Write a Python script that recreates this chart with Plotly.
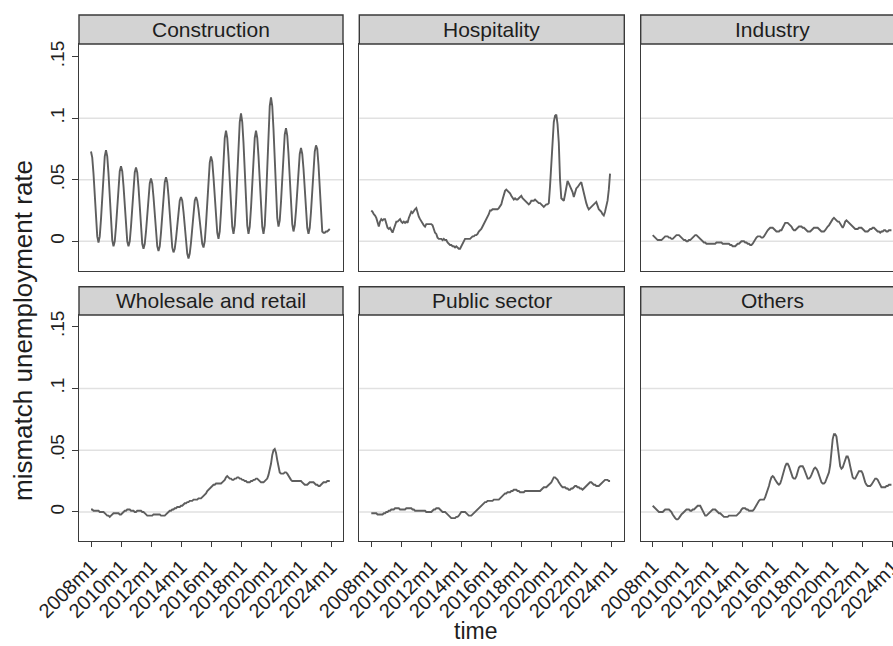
import plotly.graph_objects as go

# Monthly index: 0 = 2008m1 ... 191 = 2023m12
months = list(range(192))

sectors = ["Construction", "Hospitality", "Industry",
           "Wholesale and retail", "Public sector", "Others"]

construction = [
    0.073, 0.068, 0.055, 0.036, 0.018, 0.004, -0.001, 0.004, 0.018, 0.037, 0.055, 0.069,
    0.074, 0.069, 0.055, 0.035, 0.016, 0.001, -0.004, 0.000, 0.012, 0.029, 0.045, 0.057,
    0.061, 0.057, 0.045, 0.029, 0.012, 0.000, -0.004, 0.000, 0.012, 0.028, 0.044, 0.056,
    0.060, 0.056, 0.044, 0.027, 0.011, -0.002, -0.006, -0.002, 0.008, 0.023, 0.037, 0.047,
    0.051, 0.047, 0.036, 0.022, 0.007, -0.004, -0.008, -0.004, 0.007, 0.022, 0.037, 0.048,
    0.052, 0.048, 0.037, 0.022, 0.006, -0.005, -0.009, -0.006, 0.002, 0.014, 0.025, 0.033,
    0.036, 0.033, 0.024, 0.011, -0.001, -0.010, -0.014, -0.010, -0.001, 0.011, 0.024, 0.033,
    0.036, 0.033, 0.026, 0.016, 0.005, -0.002, -0.005, 0.000, 0.014, 0.032, 0.051, 0.064,
    0.069, 0.065, 0.052, 0.036, 0.019, 0.007, 0.002, 0.008, 0.024, 0.046, 0.068, 0.084,
    0.090, 0.084, 0.069, 0.048, 0.027, 0.012, 0.006, 0.013, 0.031, 0.055, 0.080, 0.097,
    0.104, 0.097, 0.080, 0.055, 0.031, 0.013, 0.006, 0.012, 0.027, 0.048, 0.069, 0.084,
    0.090, 0.084, 0.069, 0.048, 0.027, 0.012, 0.006, 0.013, 0.034, 0.062, 0.089, 0.110,
    0.117, 0.110, 0.091, 0.065, 0.038, 0.019, 0.012, 0.017, 0.032, 0.052, 0.072, 0.087,
    0.092, 0.086, 0.071, 0.050, 0.029, 0.014, 0.008, 0.013, 0.025, 0.042, 0.059, 0.071,
    0.076, 0.071, 0.059, 0.041, 0.024, 0.011, 0.006, 0.011, 0.024, 0.042, 0.060, 0.073,
    0.078, 0.075, 0.062, 0.040, 0.018, 0.008, 0.007, 0.007, 0.008, 0.008, 0.009, 0.010,
]

hospitality = [
    0.025, 0.024, 0.022, 0.021, 0.019, 0.016, 0.012, 0.016, 0.018, 0.017, 0.018, 0.018,
    0.015, 0.011, 0.010, 0.011, 0.009, 0.007, 0.010, 0.013, 0.016, 0.016, 0.017, 0.018,
    0.016, 0.015, 0.016, 0.015, 0.016, 0.015, 0.019, 0.022, 0.024, 0.023, 0.025, 0.026,
    0.027, 0.023, 0.020, 0.018, 0.016, 0.014, 0.013, 0.012, 0.014, 0.014, 0.014, 0.014,
    0.014, 0.013, 0.010, 0.007, 0.006, 0.003, 0.002, 0.002, 0.002, 0.001, 0.002, 0.001,
    0.001, -0.001, -0.002, -0.003, -0.003, -0.004, -0.004, -0.005, -0.004, -0.005, -0.006, -0.006,
    -0.004, -0.003, 0.000, 0.002, 0.002, 0.002, 0.002, 0.002, 0.003, 0.004, 0.004, 0.005,
    0.005, 0.006, 0.008, 0.009, 0.010, 0.012, 0.014, 0.016, 0.017, 0.019, 0.022, 0.025,
    0.025, 0.026, 0.026, 0.026, 0.026, 0.026, 0.027, 0.029, 0.030, 0.034, 0.038, 0.041,
    0.042, 0.041, 0.040, 0.039, 0.037, 0.035, 0.034, 0.035, 0.034, 0.034, 0.035, 0.036,
    0.037, 0.035, 0.034, 0.033, 0.032, 0.031, 0.030, 0.031, 0.033, 0.033, 0.033, 0.034,
    0.033, 0.032, 0.031, 0.031, 0.030, 0.029, 0.028, 0.029, 0.030, 0.030, 0.031, 0.045,
    0.060, 0.080, 0.097, 0.102, 0.103, 0.095, 0.080, 0.050, 0.035, 0.034, 0.033, 0.038,
    0.045, 0.049, 0.047, 0.045, 0.043, 0.040, 0.036, 0.040, 0.043, 0.044, 0.046, 0.047,
    0.048, 0.043, 0.038, 0.034, 0.031, 0.028, 0.026, 0.027, 0.028, 0.029, 0.030, 0.031,
    0.032, 0.029, 0.026, 0.025, 0.024, 0.022, 0.021, 0.024, 0.028, 0.033, 0.042, 0.055,
]

industry = [
    0.005, 0.004, 0.003, 0.002, 0.001, 0.001, 0.001, 0.001, 0.002, 0.003, 0.004, 0.004,
    0.004, 0.003, 0.003, 0.002, 0.002, 0.003, 0.004, 0.005, 0.005, 0.005, 0.004, 0.003,
    0.002, 0.001, 0.001, 0.000, 0.000, 0.001, 0.001, 0.002, 0.003, 0.004, 0.005, 0.005,
    0.004, 0.003, 0.002, 0.001, 0.000, -0.001, -0.001, -0.002, -0.002, -0.002, -0.002, -0.002,
    -0.002, -0.002, -0.002, -0.001, -0.001, -0.001, -0.001, -0.001, -0.002, -0.002, -0.002, -0.002,
    -0.002, -0.002, -0.003, -0.003, -0.004, -0.004, -0.004, -0.003, -0.002, -0.002, -0.001, 0.000,
    0.000, 0.000, -0.001, -0.001, -0.002, -0.002, -0.003, -0.003, -0.002, 0.000, 0.002, 0.003,
    0.004, 0.004, 0.004, 0.003, 0.003, 0.004, 0.006, 0.008, 0.009, 0.010, 0.011, 0.011,
    0.011, 0.010, 0.009, 0.008, 0.008, 0.008, 0.009, 0.009, 0.011, 0.013, 0.015, 0.015,
    0.015, 0.014, 0.013, 0.012, 0.010, 0.009, 0.009, 0.010, 0.011, 0.012, 0.012, 0.012,
    0.011, 0.011, 0.010, 0.009, 0.008, 0.008, 0.008, 0.009, 0.010, 0.011, 0.011, 0.011,
    0.011, 0.010, 0.009, 0.008, 0.008, 0.008, 0.009, 0.011, 0.012, 0.013, 0.015, 0.017,
    0.018, 0.019, 0.018, 0.017, 0.016, 0.016, 0.014, 0.012, 0.011, 0.013, 0.016, 0.017,
    0.016, 0.015, 0.014, 0.013, 0.012, 0.011, 0.010, 0.010, 0.010, 0.011, 0.011, 0.011,
    0.010, 0.009, 0.008, 0.008, 0.008, 0.009, 0.010, 0.010, 0.011, 0.011, 0.010, 0.009,
    0.008, 0.008, 0.007, 0.008, 0.008, 0.009, 0.009, 0.008, 0.008, 0.009, 0.009, 0.009,
]

wholesale = [
    0.002, 0.002, 0.001, 0.001, 0.001, 0.001, 0.001, 0.000, 0.000, 0.000, 0.000, -0.001,
    -0.002, -0.003, -0.003, -0.004, -0.003, -0.002, -0.001, -0.001, -0.001, -0.001, -0.001, -0.002,
    -0.002, -0.001, 0.000, 0.001, 0.001, 0.002, 0.002, 0.002, 0.001, 0.001, 0.001, 0.000,
    0.000, 0.001, 0.001, 0.001, 0.001, 0.000, 0.000, -0.001, -0.002, -0.003, -0.003, -0.003,
    -0.003, -0.003, -0.002, -0.002, -0.002, -0.002, -0.002, -0.002, -0.003, -0.003, -0.003, -0.003,
    -0.002, -0.001, 0.000, 0.001, 0.001, 0.002, 0.002, 0.003, 0.003, 0.004, 0.004, 0.004,
    0.005, 0.005, 0.006, 0.007, 0.007, 0.008, 0.008, 0.009, 0.009, 0.009, 0.010, 0.010,
    0.010, 0.010, 0.011, 0.011, 0.011, 0.012, 0.013, 0.014, 0.015, 0.017, 0.018, 0.019,
    0.020, 0.021, 0.022, 0.022, 0.023, 0.023, 0.023, 0.023, 0.023, 0.024, 0.025, 0.026,
    0.028, 0.029, 0.028, 0.027, 0.027, 0.026, 0.026, 0.027, 0.027, 0.028, 0.028, 0.027,
    0.027, 0.026, 0.026, 0.025, 0.025, 0.024, 0.024, 0.024, 0.025, 0.025, 0.026, 0.026,
    0.027, 0.027, 0.026, 0.025, 0.024, 0.024, 0.024, 0.025, 0.026, 0.027, 0.030, 0.034,
    0.039, 0.046, 0.050, 0.051, 0.048, 0.042, 0.035, 0.032, 0.031, 0.031, 0.031, 0.032,
    0.032, 0.031, 0.029, 0.027, 0.026, 0.025, 0.025, 0.025, 0.025, 0.025, 0.025, 0.025,
    0.025, 0.024, 0.023, 0.022, 0.022, 0.022, 0.023, 0.024, 0.024, 0.024, 0.024, 0.023,
    0.022, 0.022, 0.021, 0.021, 0.022, 0.023, 0.024, 0.024, 0.024, 0.025, 0.025, 0.025,
]

public_sector = [
    -0.001, -0.001, -0.001, -0.001, -0.001, -0.002, -0.002, -0.002, -0.002, -0.002, -0.001, -0.001,
    0.000, 0.000, 0.001, 0.001, 0.002, 0.002, 0.002, 0.003, 0.003, 0.003, 0.003, 0.002,
    0.002, 0.002, 0.002, 0.002, 0.003, 0.003, 0.003, 0.003, 0.003, 0.002, 0.002, 0.001,
    0.001, 0.001, 0.001, 0.001, 0.001, 0.001, 0.001, 0.001, 0.000, 0.000, 0.000, 0.000,
    0.000, 0.001, 0.002, 0.002, 0.003, 0.003, 0.003, 0.002, 0.001, 0.000, 0.000, 0.000,
    -0.001, -0.002, -0.003, -0.004, -0.005, -0.005, -0.005, -0.005, -0.004, -0.004, -0.003, -0.001,
    0.000, 0.000, 0.000, 0.000, -0.001, -0.002, -0.003, -0.003, -0.003, -0.002, -0.001, 0.000,
    0.001, 0.002, 0.003, 0.004, 0.005, 0.006, 0.007, 0.008, 0.008, 0.009, 0.009, 0.009,
    0.009, 0.009, 0.010, 0.010, 0.010, 0.010, 0.010, 0.011, 0.012, 0.013, 0.014, 0.015,
    0.015, 0.016, 0.016, 0.016, 0.017, 0.017, 0.018, 0.018, 0.018, 0.017, 0.017, 0.016,
    0.016, 0.016, 0.016, 0.017, 0.017, 0.017, 0.017, 0.017, 0.017, 0.017, 0.017, 0.017,
    0.017, 0.017, 0.017, 0.017, 0.018, 0.019, 0.020, 0.020, 0.020, 0.021, 0.022, 0.023,
    0.024, 0.026, 0.028, 0.028, 0.027, 0.026, 0.024, 0.022, 0.021, 0.020, 0.020, 0.020,
    0.019, 0.019, 0.018, 0.018, 0.019, 0.019, 0.020, 0.021, 0.021, 0.020, 0.020, 0.019,
    0.019, 0.018, 0.019, 0.020, 0.021, 0.022, 0.023, 0.024, 0.024, 0.023, 0.022, 0.022,
    0.021, 0.021, 0.021, 0.022, 0.023, 0.024, 0.025, 0.026, 0.026, 0.026, 0.025, 0.025,
]

others = [
    0.005, 0.004, 0.003, 0.002, 0.001, 0.000, 0.000, 0.000, 0.000, 0.001, 0.002, 0.002,
    0.002, 0.002, 0.001, 0.000, -0.002, -0.004, -0.005, -0.006, -0.006, -0.005, -0.003, -0.002,
    -0.001, 0.000, 0.001, 0.002, 0.002, 0.002, 0.001, 0.001, 0.002, 0.002, 0.003, 0.004,
    0.005, 0.005, 0.005, 0.003, 0.001, -0.001, -0.003, -0.003, -0.002, -0.001, 0.000, 0.001,
    0.002, 0.002, 0.002, 0.001, 0.000, -0.001, -0.001, -0.002, -0.003, -0.004, -0.004, -0.004,
    -0.004, -0.003, -0.003, -0.003, -0.003, -0.003, -0.003, -0.003, -0.002, -0.001, 0.000, 0.002,
    0.003, 0.003, 0.003, 0.002, 0.002, 0.001, 0.001, 0.001, 0.001, 0.002, 0.004, 0.006,
    0.007, 0.009, 0.010, 0.010, 0.010, 0.010, 0.012, 0.015, 0.017, 0.021, 0.025, 0.028,
    0.029, 0.028, 0.026, 0.024, 0.023, 0.022, 0.023, 0.026, 0.030, 0.034, 0.037, 0.039,
    0.039, 0.037, 0.034, 0.031, 0.028, 0.027, 0.027, 0.029, 0.033, 0.036, 0.037, 0.037,
    0.037, 0.035, 0.032, 0.029, 0.027, 0.027, 0.028, 0.030, 0.033, 0.035, 0.036, 0.035,
    0.033, 0.030, 0.027, 0.024, 0.023, 0.023, 0.024, 0.027, 0.030, 0.032, 0.038, 0.050,
    0.059, 0.063, 0.063, 0.061, 0.054, 0.044, 0.037, 0.035, 0.036, 0.039, 0.043, 0.045,
    0.045, 0.042, 0.037, 0.032, 0.028, 0.027, 0.027, 0.029, 0.031, 0.033, 0.033, 0.033,
    0.031, 0.027, 0.024, 0.022, 0.021, 0.021, 0.021, 0.022, 0.024, 0.026, 0.027, 0.027,
    0.026, 0.024, 0.022, 0.020, 0.020, 0.020, 0.020, 0.021, 0.021, 0.022, 0.022, 0.022,
]

series = [construction, hospitality, industry, wholesale, public_sector, others]

tick_months = [0, 24, 48, 72, 96, 120, 144, 168, 192]
tick_labels = ["2008m1", "2010m1", "2012m1", "2014m1", "2016m1",
               "2018m1", "2020m1", "2022m1", "2024m1"]
y_ticks = [0, 0.05, 0.1, 0.15]
y_tick_labels = ["0", ".05", ".1", ".15"]
grid_values = [0, 0.05, 0.1]

# ---- page geometry (pixels) ----
W, H = 893, 646
col_px = [(79, 343), (359.3, 624.3), (640.7, 905)]
row_px = [(44, 270.7), (315, 541)]
row_yrange = [(-0.0239, 0.1604), (-0.0235, 0.1594)]
px_per_month = 1.25
x_start = -9.6
strip_h = [29, 28.3]

FONT = "Liberation Sans, Arial, sans-serif"
FRAME = "#3a3a3a"
LINE = "#5e5e5e"
GRID = "#e1e1e1"
STRIP = "#d3d3d3"
TEXT = "#1e1e1e"

fig = go.Figure()
layout = dict(
    width=W, height=H,
    margin=dict(l=0, r=0, t=0, b=0, autoexpand=False),
    paper_bgcolor="white", plot_bgcolor="white",
    showlegend=False,
    font=dict(family=FONT, color=TEXT),
    shapes=[], annotations=[],
)

for i, (name, vals) in enumerate(zip(sectors, series)):
    r, c = divmod(i, 3)
    n = i + 1
    xa = "x" if n == 1 else f"x{n}"
    ya = "y" if n == 1 else f"y{n}"
    x0p, x1p = col_px[c]
    x1_visible = min(x1p, W)
    y0p, y1p = row_px[r]
    x_end = x_start + (x1_visible - x0p) / px_per_month

    fig.add_trace(go.Scatter(
        x=months, y=vals, mode="lines", xaxis=xa, yaxis=ya,
        line=dict(color=LINE, width=1.9), hoverinfo="skip",
    ))

    layout[f"xaxis{n}" if n > 1 else "xaxis"] = dict(
        domain=[x0p / W, x1_visible / W], anchor=ya, automargin=False,
        range=[x_start, x_end],
        tickvals=tick_months, ticktext=tick_labels,
        tickangle=-45, showticklabels=(r == 1), ticklabeloverflow="allow",
        ticks="outside" if r == 1 else "", ticklen=5, tickwidth=1.2, tickcolor=FRAME,
        tickfont=dict(size=20, color=TEXT),
        showline=True, linecolor=FRAME, linewidth=1.4, mirror=True,
        showgrid=False, zeroline=False,
    )
    layout[f"yaxis{n}" if n > 1 else "yaxis"] = dict(
        domain=[1 - y1p / H, 1 - y0p / H], anchor=xa, automargin=False,
        range=list(row_yrange[r]),
        tickvals=y_ticks, ticktext=y_tick_labels,
        tickangle=-90, showticklabels=(c == 0),
        ticks="outside" if c == 0 else "", ticklen=6, tickwidth=1.2, tickcolor=FRAME,
        tickfont=dict(size=19, color=TEXT),
        showline=True, linecolor=FRAME, linewidth=1.4, mirror=(c < 2),
        showgrid=False, zeroline=False,
    )

    # horizontal grid lines
    for g in grid_values:
        layout["shapes"].append(dict(
            type="line", layer="below",
            xref=f"{xa} domain", x0=0, x1=1,
            yref=ya, y0=g, y1=g,
            line=dict(color=GRID, width=1.5),
        ))

    # strip header above each panel
    panel_h = y1p - y0p
    vis_w = x1_visible - x0p
    layout["shapes"].append(dict(
        type="rect", layer="above",
        xref=f"{xa} domain", x0=0, x1=(x1p - x0p) / vis_w,
        yref=f"{ya} domain", y0=1, y1=1 + strip_h[r] / panel_h,
        fillcolor=STRIP, line=dict(color=FRAME, width=1.4),
    ))
    layout["annotations"].append(dict(
        text=name, showarrow=False,
        xref=f"{xa} domain", x=((x0p + x1p) / 2 - x0p) / vis_w,
        yref=f"{ya} domain", y=1 + strip_h[r] / 2 / panel_h,
        xanchor="center", yanchor="middle",
        font=dict(size=21, color=TEXT, family=FONT),
    ))

layout["annotations"].append(dict(
    text="mismatch unemployment rate", showarrow=False, textangle=-90,
    xref="paper", x=23 / W, yref="paper", y=1 - 331 / H,
    xanchor="center", yanchor="middle",
    font=dict(size=26, color=TEXT, family=FONT),
))
layout["annotations"].append(dict(
    text="time", showarrow=False, borderpad=0,
    xref="paper", x=475 / W, yref="paper", y=1 - 631 / H,
    xanchor="center", yanchor="middle",
    font=dict(size=23, color=TEXT, family=FONT),
))

fig.update_layout(**layout)
fig.write_html("out.html")
